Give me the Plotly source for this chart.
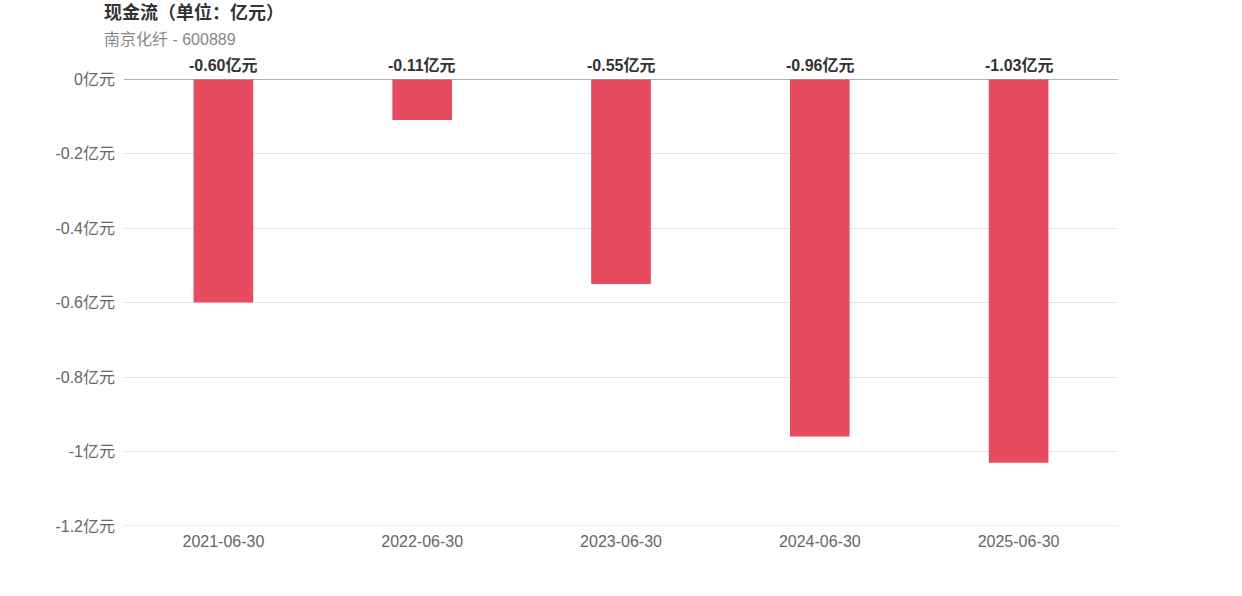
import plotly.graph_objects as go

categories = ["2021-06-30", "2022-06-30", "2023-06-30", "2024-06-30", "2025-06-30"]
values = [-0.60, -0.11, -0.55, -0.96, -1.03]
tick_vals = [0, -0.2, -0.4, -0.6, -0.8, -1.0, -1.2]
tick_text = ["0亿元", "-0.2亿元", "-0.4亿元", "-0.6亿元", "-0.8亿元", "-1亿元", "-1.2亿元"]
title_text = "现金流（单位：亿元）"
subtitle_text = "南京化纤 - 600889"

FONT = "Liberation Sans, Arial, Noto Sans CJK SC, sans-serif"

fig = go.Figure()
fig.add_trace(go.Bar(
    x=categories, y=values,
    marker=dict(color="#E64B5F", line=dict(width=0)),
    width=0.3, hoverinfo="x+y",
))

for c, v in zip(categories, values):
    fig.add_annotation(
        x=c, y=0, text=f"{v:.2f}亿元", showarrow=False,
        yanchor="bottom", yshift=3,
        font=dict(family=FONT, size=16, color="#333333", weight="bold"),
    )

fig.add_annotation(
    xref="paper", yref="paper", x=0.0, y=1.0, yshift=54,
    xanchor="left", yanchor="bottom", xshift=-22,
    text=f"<b>{title_text}</b>", showarrow=False,
    font=dict(family=FONT, size=18, color="#333333"),
)
fig.add_annotation(
    xref="paper", yref="paper", x=0.0, y=1.0, yshift=29,
    xanchor="left", yanchor="bottom", xshift=-22,
    text=subtitle_text, showarrow=False,
    font=dict(family=FONT, size=16, color="#888888"),
)

fig.update_layout(
    width=1242, height=596,
    margin=dict(l=124, r=124, t=79, b=70),
    plot_bgcolor="white", paper_bgcolor="white",
    showlegend=False,
    font=dict(family=FONT),
    xaxis=dict(
        type="category", showgrid=False, showline=False, zeroline=False,
        ticks="", tickfont=dict(size=16, color="#666666"), ticklabelstandoff=4,
    ),
    yaxis=dict(
        range=[-1.2, 0], tickvals=tick_vals, ticktext=tick_text,
        showgrid=True, gridcolor="#E6E6EA", gridwidth=1,
        zeroline=False, showline=False, ticks="",
        tickfont=dict(size=16, color="#666666"), ticklabelstandoff=8,
    ),
)
fig.add_hline(y=0, line=dict(color="#999999", width=1.5))
fig.add_hline(y=-1.2, line=dict(color="#E6E6EA", width=1.5))

fig.write_html("out.html", config={"displayModeBar": False},
               post_script="document.body.style.margin='0';")
